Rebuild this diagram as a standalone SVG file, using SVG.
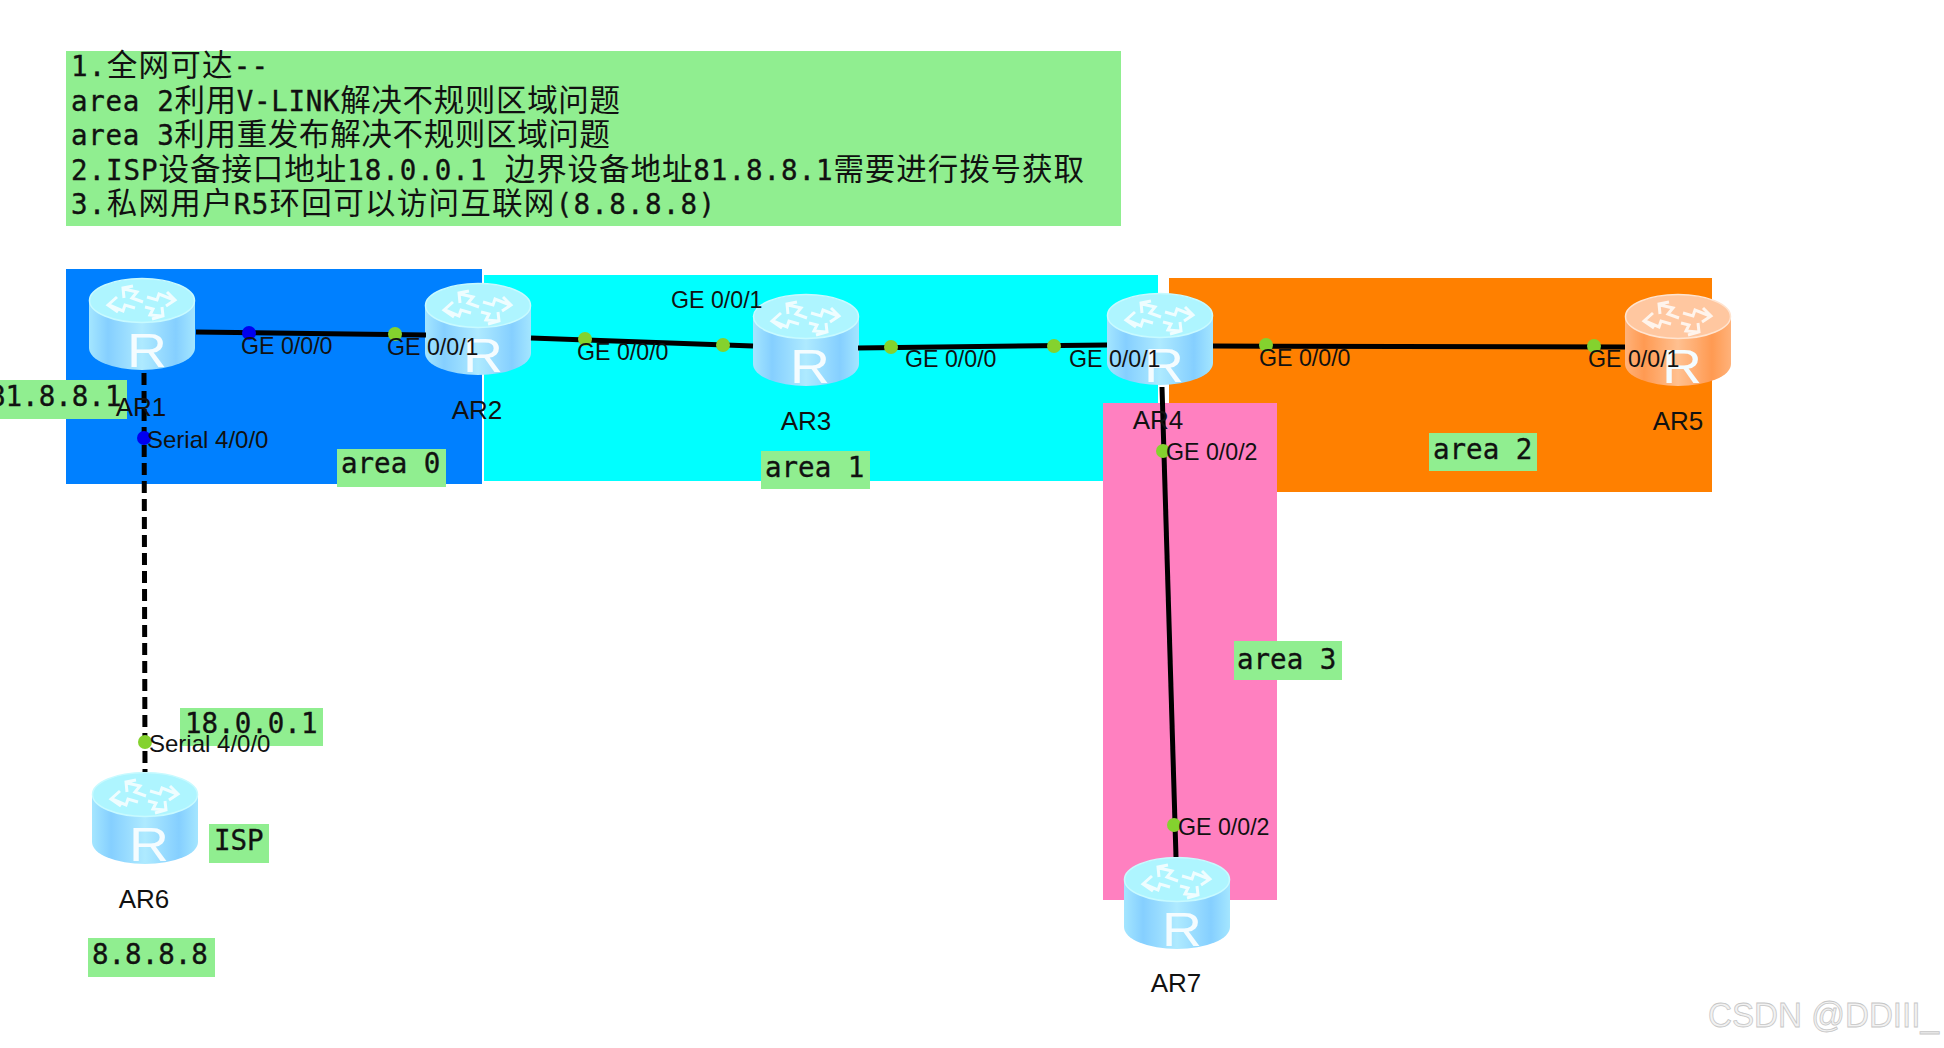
<svg xmlns="http://www.w3.org/2000/svg" xmlns:xlink="http://www.w3.org/1999/xlink" width="1944" height="1048" viewBox="0 0 1944 1048">
<style>
.tag{fill:#90ee90}
.mono{font-family:"DejaVu Sans Mono","Liberation Mono",monospace;font-size:27.500px;fill:#111;stroke:#111;stroke-width:.35}
.cjk{font-family:"Noto Sans CJK SC",sans-serif;font-size:30.500px;stroke-width:0}
.if{font-family:"Liberation Sans",Arial,sans-serif;font-size:23.200px;fill:#111}
.ser{font-size:24px}
.name{font-family:"Liberation Sans",Arial,sans-serif;font-size:26px;fill:#111;text-anchor:middle}
.r{font-family:"Liberation Sans",Arial,sans-serif;font-size:49px;fill:#f4fcff;text-anchor:middle}
.link{stroke:#000;stroke-width:5;fill:none}
.dash{stroke-dasharray:12 6}
.g{fill:#84d22e}
.b{fill:#0000f0}
.arw{fill:none;stroke:#fff;stroke-width:3;stroke-opacity:.8;stroke-linejoin:miter}
</style>
<defs>
<filter id="soft" x="-5%" y="-5%" width="110%" height="110%"><feGaussianBlur stdDeviation=".6"/></filter>
<linearGradient id="bb" x1="0" x2="1" y1="0" y2="0"><stop offset="0" stop-color="#a4e6ff"/><stop offset=".18" stop-color="#85cfff"/><stop offset=".5" stop-color="#aeeaff"/><stop offset=".82" stop-color="#85cfff"/><stop offset="1" stop-color="#a4e6ff"/></linearGradient>
<linearGradient id="bo" x1="0" x2="1" y1="0" y2="0"><stop offset="0" stop-color="#ffb27a"/><stop offset=".18" stop-color="#ff9a52"/><stop offset=".5" stop-color="#ffc090"/><stop offset=".82" stop-color="#ff9a52"/><stop offset="1" stop-color="#ffb27a"/></linearGradient>
<g id="arrows" class="arw">
<path d="M54,24 L43,20 L48,14 L35,11 M35,20 L34,10 L44,8"/>
<path d="M58,19 L68,22 L70,16 L85,22 M78,14 L86,22 L77,28"/>
<path d="M46,30 L36,27 L34,33 L20,27 M28,19 L19,27 L29,34"/>
<path d="M56,29 L64,31 L61,37 L73,38 M73,29 L74,38 L63,41"/>
</g>
<g id="router-blue" filter="url(#soft)">
<path d="M0,22 V70 A53,22 0 0 0 106,70 V22 Z" fill="url(#bb)"/>
<ellipse cx="53" cy="22.500" rx="52.500" ry="22" fill="#aef5ff" stroke="#c8faff" stroke-width="1.500"/>
<use href="#arrows"/>
</g>
<g id="router-orange" filter="url(#soft)">
<path d="M0,22 V70 A53,22 0 0 0 106,70 V22 Z" fill="url(#bo)"/>
<ellipse cx="53" cy="22.500" rx="52.500" ry="22" fill="#ffc7a0" stroke="#ffe4d0" stroke-width="1.500"/>
<use href="#arrows"/>
</g>
</defs>
<rect width="1944" height="1048" fill="#fff"/>

<g id="notes">
<rect class="tag" x="66" y="51" width="1055" height="175"/>
<text class="mono" x="71" y="76" textLength="197">1.<tspan class="cjk">全网可达</tspan>--</text>
<text class="mono" x="71" y="111" textLength="549">area 2<tspan class="cjk">利用</tspan>V-LINK<tspan class="cjk">解决不规则区域问题</tspan></text>
<text class="mono" x="71" y="145" textLength="539">area 3<tspan class="cjk">利用重发布解决不规则区域问题</tspan></text>
<text class="mono" x="71" y="180" textLength="1013">2.ISP<tspan class="cjk">设备接口地址</tspan>18.0.0.1 <tspan class="cjk">边界设备地址</tspan>81.8.8.1<tspan class="cjk">需要进行拨号获取</tspan></text>
<text class="mono" x="71" y="214" textLength="644">3.<tspan class="cjk">私网用户</tspan>R5<tspan class="cjk">环回可以访问互联网</tspan>(8.8.8.8)</text>
</g>

<g id="areas">
<rect id="area0-bg" x="66" y="269" width="416" height="215" fill="#0080ff"/>
<rect id="area1-bg" x="484" y="275" width="674" height="206" fill="#00ffff"/>
<rect id="area2-bg" x="1169" y="278" width="543" height="214" fill="#ff8000"/>
<rect id="area3-bg" x="1103" y="403" width="174" height="497" fill="#ff80c0"/>
</g>

<g id="AR1"><use href="#router-blue" x="89" y="278"/><text class="r" transform="translate(147 367) scale(1.130 1)">R</text></g>
<g id="AR2"><use href="#router-blue" x="425" y="283"/><text class="r" transform="translate(483 372) scale(1.130 1)">R</text></g>
<g id="AR3"><use href="#router-blue" x="753" y="294"/><text class="r" transform="translate(810 383) scale(1.130 1)">R</text></g>
<g id="AR4"><use href="#router-blue" x="1107" y="293"/><text class="r" transform="translate(1164 382) scale(1.130 1)">R</text></g>
<g id="AR5"><use href="#router-orange" x="1625" y="294"/><text class="r" transform="translate(1682 383) scale(1.130 1)">R</text></g>
<g id="AR6"><use href="#router-blue" x="92" y="772"/><text class="r" transform="translate(149 861) scale(1.130 1)">R</text></g>
<g id="AR7"><use href="#router-blue" x="1124" y="857"/><text class="r" transform="translate(1182 946) scale(1.130 1)">R</text></g>

<g id="connectors">
<path class="link" d="M196,332 L426,335"/>
<path class="link" d="M531,338 L753,346"/>
<path class="link" d="M858,348 L1107,345"/>
<path class="link" d="M1213,346 L1625,347"/>
<path class="link" d="M1162,387 L1176,857"/>
<path class="link dash" d="M144,373 L145,772"/>
<circle class="b" cx="249" cy="333" r="7"/>
<circle class="g" cx="395" cy="334" r="7"/>
<circle class="g" cx="585" cy="339" r="7"/>
<circle class="g" cx="723" cy="345" r="7"/>
<circle class="g" cx="891" cy="347" r="7"/>
<circle class="g" cx="1054" cy="346" r="7"/>
<circle class="g" cx="1266" cy="345" r="7"/>
<circle class="g" cx="1594" cy="346" r="7"/>
<circle class="g" cx="1163" cy="451" r="7"/>
<circle class="g" cx="1174" cy="825" r="7"/>
<circle class="b" cx="144" cy="438" r="7"/>
<circle class="g" cx="145" cy="742" r="7"/>
</g>

<g id="labels">
<rect class="tag" x="337" y="449" width="109" height="38"/><text class="mono" x="341" y="473">area 0</text>
<rect class="tag" x="761" y="451" width="109" height="38"/><text class="mono" x="765" y="477">area 1</text>
<rect class="tag" x="1429" y="433" width="108" height="38"/><text class="mono" x="1433" y="459">area 2</text>
<rect class="tag" x="1234" y="641" width="108" height="39"/><text class="mono" x="1237" y="669">area 3</text>
<rect class="tag" x="0" y="380" width="127" height="39"/><text class="mono" x="-11" y="406">81.8.8.1</text>
<rect class="tag" x="180" y="708" width="143" height="38"/><text class="mono" x="185" y="733">18.0.0.1</text>
<rect class="tag" x="209" y="824" width="60" height="39"/><text class="mono" x="214" y="850">ISP</text>
<rect class="tag" x="88" y="938" width="127" height="39"/><text class="mono" x="92" y="964">8.8.8.8</text>

<text class="if" x="241" y="354">GE 0/0/0</text>
<text class="if" x="387" y="355">GE 0/0/1</text>
<text class="if" x="577" y="360">GE 0/0/0</text>
<text class="if" x="671" y="308">GE 0/0/1</text>
<text class="if" x="905" y="367">GE 0/0/0</text>
<text class="if" x="1069" y="367">GE 0/0/1</text>
<text class="if" x="1259" y="366">GE 0/0/0</text>
<text class="if" x="1588" y="367">GE 0/0/1</text>
<text class="if" x="1166" y="460">GE 0/0/2</text>
<text class="if" x="1178" y="835">GE 0/0/2</text>
<text class="if ser" x="147" y="448">Serial 4/0/0</text>
<text class="if ser" x="149" y="752">Serial 4/0/0</text>

<text class="name" x="141" y="416">AR1</text>
<text class="name" x="477" y="419">AR2</text>
<text class="name" x="806" y="430">AR3</text>
<text class="name" x="1158" y="429">AR4</text>
<text class="name" x="1678" y="430">AR5</text>
<text class="name" x="144" y="908">AR6</text>
<text class="name" x="1176" y="992">AR7</text>
</g>

<text id="watermark" x="1708" y="1027" font-family="'Liberation Sans',Arial,sans-serif" font-size="35" fill="#f2f2f2" stroke="#c6c6c6" stroke-width=".8" textLength="231" lengthAdjust="spacingAndGlyphs">CSDN @DDIII_</text>
</svg>
